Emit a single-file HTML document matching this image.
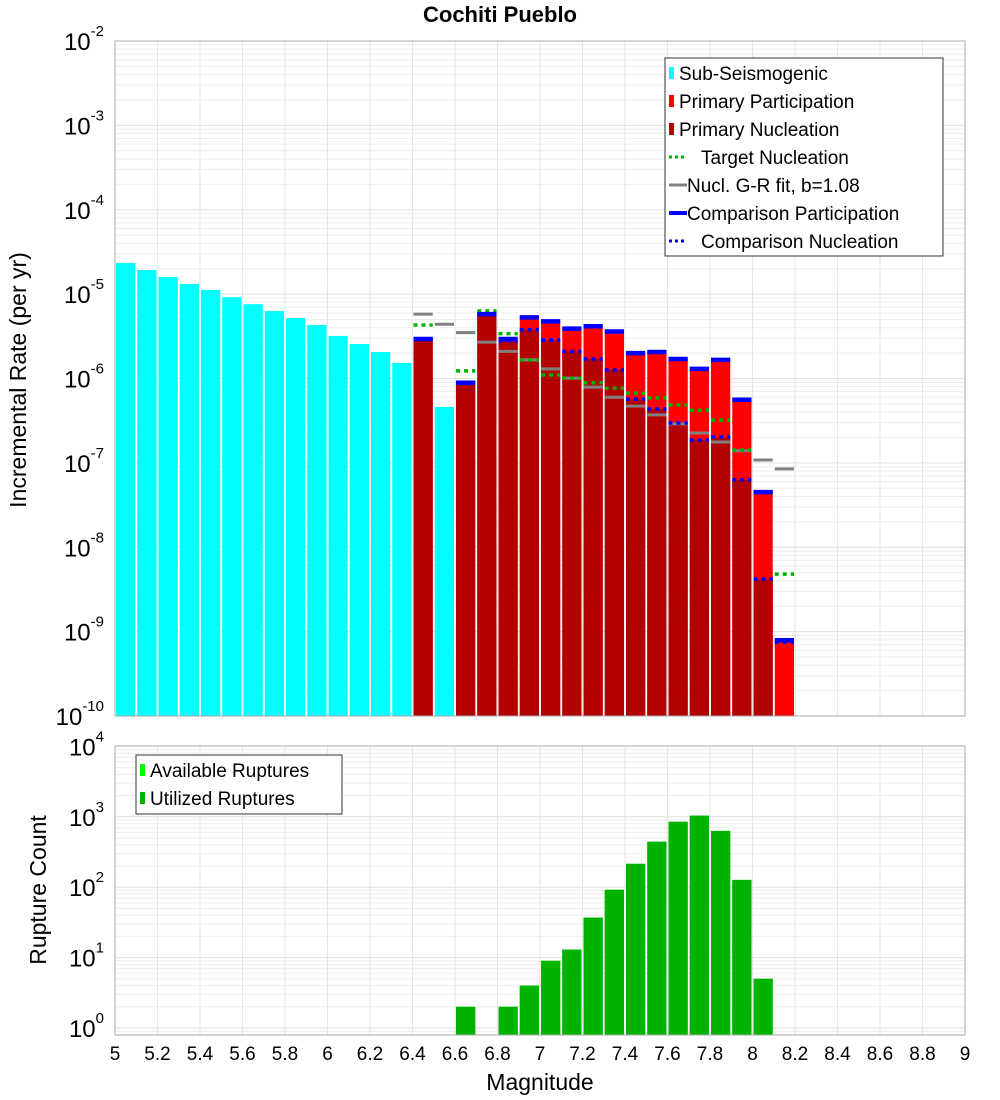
<!DOCTYPE html>
<html><head><meta charset="utf-8"><style>
body{margin:0;background:#fff}
svg{display:block;font-family:"Liberation Sans","DejaVu Sans",sans-serif}
</style></head><body>
<svg id="c" width="1000" height="1100" viewBox="0 0 1000 1100" xmlns="http://www.w3.org/2000/svg">
<text x="500" y="22" text-anchor="middle" font-size="22" font-weight="bold">Cochiti Pueblo</text>
<g id="top"></g><g id="bot"></g>
</svg>
<script>
const binStarts=[5.0,5.1,5.2,5.3,5.4,5.5,5.6,5.7,5.8,5.9,6.0,6.1,6.2,6.3,6.4,6.5,6.6,6.7,6.8,6.9,7.0,7.1,7.2,7.3,7.4,7.5,7.6,7.7,7.8,7.9,8.0,8.1];
const subSeis=[2.34e-5,1.93e-5,1.6e-5,1.32e-5,1.12e-5,9.2e-6,7.6e-6,6.3e-6,5.2e-6,4.3e-6,3.2e-6,2.56e-6,2.06e-6,1.53e-6,0,4.6e-7,0,0,0,0,0,0,0,0,0,0,0,0,0,0,0,0];
const primaryPart=[0,0,0,0,0,0,0,0,0,0,0,0,0,0,2.94e-6,0,8.9e-7,5.8e-6,2.94e-6,5.3e-6,4.75e-6,3.9e-6,4.16e-6,3.6e-6,2.0e-6,2.06e-6,1.7e-6,1.3e-6,1.66e-6,5.6e-7,4.5e-8,7.9e-10];
const primaryNucl=[0,0,0,0,0,0,0,0,0,0,0,0,0,0,2.94e-6,0,8.9e-7,5.8e-6,2.94e-6,3.8e-6,2.86e-6,2.1e-6,1.7e-6,1.26e-6,5.7e-7,4.35e-7,2.97e-7,1.87e-7,2.03e-7,6.3e-8,4.2e-9,0];
const targetNucl=[0,0,0,0,0,0,0,0,0,0,0,0,0,0,4.3e-6,0,1.23e-6,6.3e-6,3.4e-6,1.66e-6,1.1e-6,1.01e-6,8.9e-7,7.7e-7,6.7e-7,5.9e-7,4.85e-7,4.2e-7,3.2e-7,1.42e-7,4.5e-8,4.8e-9];
const grFit=[0,0,0,0,0,0,0,0,0,0,0,0,0,0,5.8e-6,4.4e-6,3.5e-6,2.7e-6,2.1e-6,1.66e-6,1.3e-6,1.01e-6,7.9e-7,6.0e-7,4.7e-7,3.7e-7,2.9e-7,2.26e-7,1.77e-7,1.39e-7,1.08e-7,8.5e-8];
const compPart=[0,0,0,0,0,0,0,0,0,0,0,0,0,0,2.94e-6,0,8.9e-7,5.8e-6,2.94e-6,5.3e-6,4.75e-6,3.9e-6,4.16e-6,3.6e-6,2.0e-6,2.06e-6,1.7e-6,1.3e-6,1.66e-6,5.6e-7,4.5e-8,7.9e-10];
const compNucl=[0,0,0,0,0,0,0,0,0,0,0,0,0,0,2.94e-6,0,8.9e-7,5.8e-6,2.8e-6,3.8e-6,2.86e-6,2.1e-6,1.7e-6,1.26e-6,5.7e-7,4.35e-7,2.97e-7,1.87e-7,2.03e-7,6.3e-8,4.2e-9,7.5e-10];
const countBins=[6.6,6.8,6.9,7.0,7.1,7.2,7.3,7.4,7.5,7.6,7.7,7.8,7.9,8.0];
const availRup=[2,2,4,9,13,37,92,215,443,850,1040,630,127,5];
const utilRup=[2,2,4,9,13,37,92,215,443,850,1040,630,127,5];
const xTicks=[5,5.2,5.4,5.6,5.8,6,6.2,6.4,6.6,6.8,7,7.2,7.4,7.6,7.8,8,8.2,8.4,8.6,8.8,9];
const topExps=[-10,-9,-8,-7,-6,-5,-4,-3,-2];
const botExps=[0,1,2,3,4];

const NS="http://www.w3.org/2000/svg";
const X0=115,X1=965;
const x=m=>X0+(m-5)/4*(X1-X0);
const TY0=716,TY1=41;
const yT=v=>TY0-(Math.log10(v)+10)/8*(TY0-TY1);
const BY1=746,BY0=1035;
const yB=v=>1028-Math.log10(v)*70.4;
function el(p,t,a){const e=document.createElementNS(NS,t);for(const k in a)e.setAttribute(k,a[k]);p.appendChild(e);return e;}
const topG=document.getElementById('top'),botG=document.getElementById('bot');

function grid(g,y0,y1,yf,exps,lo){
  const bg=el(g,'rect',{x:X0,y:y1,width:X1-X0,height:y0-y1,fill:'#fff'});
  
  
  for(let e=exps[0];e<exps[exps.length-1];e++)for(let k=1;k<10;k++){
    const yy=yf(k*Math.pow(10,e));if(yy<y1||yy>y0)continue;
    el(g,'line',{x1:X0,x2:X1,y1:yy,y2:yy,stroke:k==1?'#e0e0e0':'#eeeeee','stroke-width':1});
  }
  if(lo!==undefined){for(let k=1;k<10;k++){const yy=yf(k*Math.pow(10,lo));if(yy<=y0&&yy>=y1)el(g,'line',{x1:X0,x2:X1,y1:yy,y2:yy,stroke:'#eeeeee'});}}
  xTicks.forEach(t=>{el(g,'line',{x1:x(t),x2:x(t),y1:y1,y2:y0,stroke:'#e6e6e6'});});
}
grid(topG,TY0,TY1,yT,topExps);
grid(botG,BY0,BY1,yB,botExps,-1);

function bars(g,starts,vals,yf,y0,color,name){
  vals.forEach((v,i)=>{if(!v)return;const a=x(starts[i])+1,b=x(starts[i]+0.1)-1;const yy=yf(v);
    const r=el(g,'rect',{x:a,y:yy,width:b-a,height:y0-yy,fill:color});
    
    });
}
function lines(g,vals,color,w,dash,name){
  vals.forEach((v,i)=>{if(!v)return;const a=x(binStarts[i])+1,b=x(binStarts[i]+0.1)-1;const yy=yT(v);
    const l=el(g,'line',{x1:a,x2:b,y1:yy,y2:yy,stroke:color,'stroke-width':w});
    if(dash)l.setAttribute('stroke-dasharray',dash);
    
    });
}
bars(topG,binStarts,subSeis,yT,TY0,'#00ffff','sub-seismogenic-bar');
bars(topG,binStarts,primaryPart,yT,TY0,'#ff0000','primary-participation-bar');
bars(topG,binStarts,primaryNucl,yT,TY0,'#b30000','primary-nucleation-bar');
lines(topG,grFit,'#808080',3,null,'gr-fit-line');
lines(topG,targetNucl,'#00b300',3.5,'4,4','target-nucleation-line');
lines(topG,compPart,'#0000ff',4.5,null,'comparison-participation-line');
lines(topG,compNucl,'#0000ff',3.5,'4,4','comparison-nucleation-line');
bars(botG,countBins,availRup,yB,BY0,'#00ff00','available-ruptures-bar');
bars(botG,countBins,utilRup,yB,BY0,'#00b300','utilized-ruptures-bar');

el(topG,'rect',{x:X0,y:TY1,width:X1-X0,height:TY0-TY1,fill:'none',stroke:'#aaa'});
el(botG,'rect',{x:X0,y:BY1,width:X1-X0,height:BY0-BY1,fill:'none',stroke:'#aaa'});

function ylab(g,e,yy,name){
  const t=el(g,'text',{x:104,y:yy+9,'text-anchor':'end','font-size':24});
  
  
  const a=el(t,'tspan',{});a.textContent='10';
  const s=el(t,'tspan',{dy:-14,'font-size':15});s.textContent=String(e);
}
topExps.forEach(e=>ylab(topG,e,yT(Math.pow(10,e)),'y-tick-label'));
botExps.forEach(e=>ylab(botG,e,yB(Math.pow(10,e)),'count-tick-label'));
xTicks.forEach(t=>{const tx=el(botG,'text',{x:x(t),y:1060,'text-anchor':'middle','font-size':19});tx.textContent=String(t);
  
  });

function title(g,txt,cx,cy,rot,name){const t=el(g,'text',{x:cx,y:cy,'text-anchor':'middle','font-size':23});
  if(rot)t.setAttribute('transform',`rotate(-90 ${cx} ${cy})`);
  t.textContent=txt;
  
  }
title(topG,'Incremental Rate (per yr)',26,380,true,'y-axis-title');
title(botG,'Rupture Count',46,890,true,'count-axis-title');
title(botG,'Magnitude',540,1090,false,'x-axis-title');

function legend(g,bx,by,bw,bh,items,name){
  const lg=el(g,'g',{});
  
  
  el(lg,'rect',{x:bx,y:by,width:bw,height:bh,fill:'#fff',stroke:'#333'});
  items.forEach((it,i)=>{const cy=by+15+i*28;
    const e=el(lg,'g',{});
    
    
    if(it.t=='box')el(e,'rect',{x:bx+4,y:cy-6,width:5,height:12,fill:it.c});
    else{const l=el(e,'line',{x1:bx+4,x2:bx+22,y1:cy,y2:cy,stroke:it.c,'stroke-width':it.w});if(it.d)l.setAttribute('stroke-dasharray',it.d);}
    const tx=el(e,'text',{x:bx+(it.t=='box'?14:(it.d?36:22)),y:cy+7,'font-size':19});tx.textContent=it.n;});
}
legend(topG,665,58,278,198,[
 {t:'box',c:'#00ffff',n:'Sub-Seismogenic'},
 {t:'box',c:'#ff0000',n:'Primary Participation'},
 {t:'box',c:'#b30000',n:'Primary Nucleation'},
 {t:'line',c:'#00b300',w:3,d:'3,3',n:'Target Nucleation'},
 {t:'line',c:'#808080',w:3,n:'Nucl. G-R fit, b=1.08'},
 {t:'line',c:'#0000ff',w:4,n:'Comparison Participation'},
 {t:'line',c:'#0000ff',w:3,d:'3,3',n:'Comparison Nucleation'}],'rate-legend');
legend(botG,136,755,206,59,[
 {t:'box',c:'#00ff00',n:'Available Ruptures'},
 {t:'box',c:'#00b300',n:'Utilized Ruptures'}],'count-legend');
</script>
</body></html>
